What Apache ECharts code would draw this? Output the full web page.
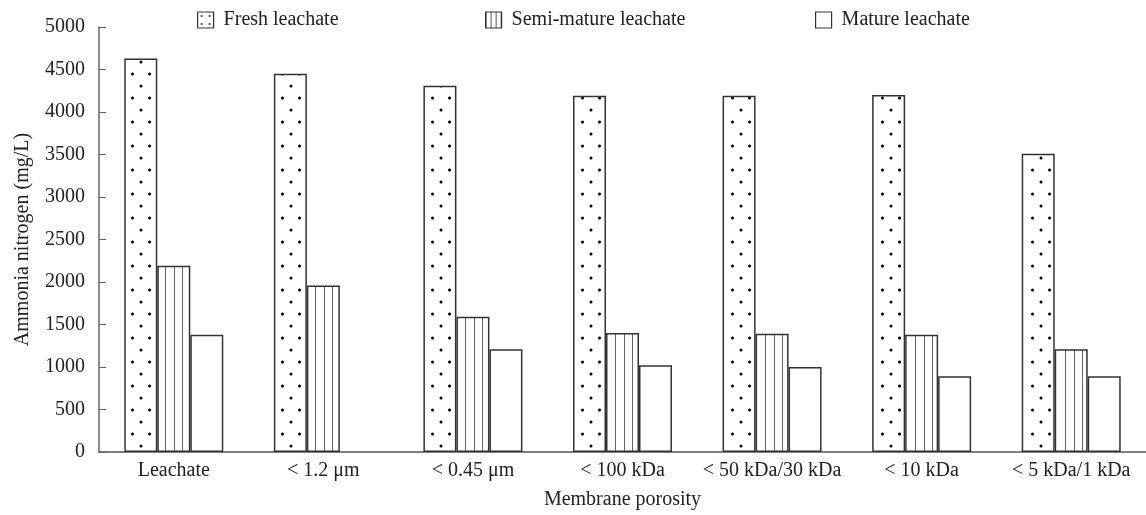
<!DOCTYPE html>
<html>
<head>
<meta charset="utf-8">
<script src="https://cdn.jsdelivr.net/npm/echarts@6/dist/echarts.min.js"></script>
<style>
html, body { margin: 0; padding: 0; background: #fff; }
#main { width: 1146px; height: 515px; }
</style>
</head>
<body>
<div id="main"></div>
<script>
var categories = ['Leachate', '< 1.2 μm', '< 0.45 μm', '< 100 kDa', '< 50 kDa/30 kDa', '< 10 kDa', '< 5 kDa/1 kDa'];
var seriesNames = ['Fresh leachate', 'Semi-mature leachate', 'Mature leachate'];
var fresh = [4630, 4450, 4310, 4190, 4190, 4200, 3510];
var semiMature = [2190, 1960, 1590, 1400, 1390, 1380, 1210];
var mature = [1380, null, 1210, 1020, 1000, 890, 890];

var FONT = 'Liberation Serif';
var GRID_LEFT = 99, CAT_W = 150, BAR_W = 33;
// left edge of first / second bar inside a category
var freshOff = CAT_W / 2 - 1.5 * BAR_W;
var semiOff = freshOff + BAR_W;

function mod(a, n) { return ((a % n) + n) % n; }

// dotted fill, tile is one category wide so dots sit inside the bar
function dotPattern() {
  var c = document.createElement('canvas');
  c.width = CAT_W; c.height = 24;
  var g = c.getContext('2d');
  g.fillStyle = '#fff';
  g.fillRect(0, 0, c.width, c.height);
  g.fillStyle = '#000';
  var x0 = mod(GRID_LEFT + freshOff, CAT_W);
  [[8, 2], [25, 2], [16.5, 14]].forEach(function (p) {
    [-CAT_W, 0, CAT_W].forEach(function (s) {
      g.beginPath();
      g.arc(x0 + p[0] + s, p[1], 1.5, 0, Math.PI * 2);
      g.fill();
    });
  });
  return c;
}

// vertical hatch for semi-mature bars
function linePattern() {
  var c = document.createElement('canvas');
  c.width = CAT_W; c.height = 4;
  var g = c.getContext('2d');
  g.fillStyle = '#fff';
  g.fillRect(0, 0, c.width, c.height);
  g.fillStyle = '#666';
  for (var k = 1; k < 4; k++) {
    var x = Math.floor(mod(GRID_LEFT + semiOff + k * BAR_W / 4, CAT_W));
    g.fillRect(x, 0, 1, c.height);
  }
  return c;
}

function iconDots() {
  var c = document.createElement('canvas');
  c.width = 8; c.height = 8;
  var g = c.getContext('2d');
  g.fillStyle = '#fff'; g.fillRect(0, 0, 8, 8);
  g.fillStyle = '#111';
  g.beginPath(); g.arc(4, 4, 0.9, 0, Math.PI * 2); g.fill();
  return c;
}

function iconLines() {
  var c = document.createElement('canvas');
  c.width = 5; c.height = 4;
  var g = c.getContext('2d');
  g.fillStyle = '#fff'; g.fillRect(0, 0, 5, 4);
  g.fillStyle = '#555'; g.fillRect(0, 0, 1, 4);
  return c;
}

var fills = [
  { image: dotPattern(), repeat: 'repeat' },
  { image: linePattern(), repeat: 'repeat' },
  '#fff'
];
var iconFills = [
  { image: iconDots(), repeat: 'repeat' },
  { image: iconLines(), repeat: 'repeat' },
  '#fff'
];
var values = [fresh, semiMature, mature];
var legendLeft = [197, 485, 815];

function legendFor(i) {
  return {
    left: legendLeft[i],
    top: 10,
    padding: 0,
    itemWidth: 16,
    itemHeight: 16,
    icon: 'rect',
    data: [{ name: seriesNames[i], itemStyle: { color: iconFills[i], borderColor: '#333', borderWidth: 1.2 } }],
    textStyle: { fontFamily: FONT, fontSize: 20, color: '#222', padding: [0, 0, 0, 5] }
  };
}

var chart = echarts.init(document.getElementById('main'));
chart.setOption({
  animation: false,
  backgroundColor: '#fff',
  legend: [legendFor(0), legendFor(1), legendFor(2)],
  grid: { left: GRID_LEFT, top: 27, width: CAT_W * categories.length, bottom: 63 },
  xAxis: {
    type: 'category',
    data: categories,
    name: 'Membrane porosity',
    nameLocation: 'middle',
    nameGap: 38,
    nameTextStyle: { fontFamily: FONT, fontSize: 20, color: '#222' },
    axisLine: { lineStyle: { color: '#555', width: 1.5 } },
    axisTick: { inside: true, length: 7, lineStyle: { color: '#777' } },
    axisLabel: { interval: 0, margin: 9, fontFamily: FONT, fontSize: 20, color: '#222' }
  },
  yAxis: {
    type: 'value',
    min: 0,
    max: 5000,
    interval: 500,
    name: 'Ammonia nitrogen (mg/L)',
    nameLocation: 'middle',
    nameGap: 66,
    nameTextStyle: { fontFamily: FONT, fontSize: 20, color: '#222' },
    axisLine: { show: true, lineStyle: { color: '#666', width: 1.5 } },
    axisTick: { show: true, inside: true, length: 7, lineStyle: { color: '#666' } },
    axisLabel: {
      margin: 14, fontFamily: FONT, fontSize: 20, color: '#222',
      formatter: function (v) { return String(v); }
    },
    splitLine: { show: false }
  },
  series: values.map(function (v, i) {
    return {
      name: seriesNames[i],
      type: 'bar',
      data: v,
      barWidth: BAR_W,
      barGap: '0%',
      itemStyle: { color: fills[i], borderColor: '#333', borderWidth: 1.5 }
    };
  })
});
</script>
</body>
</html>
